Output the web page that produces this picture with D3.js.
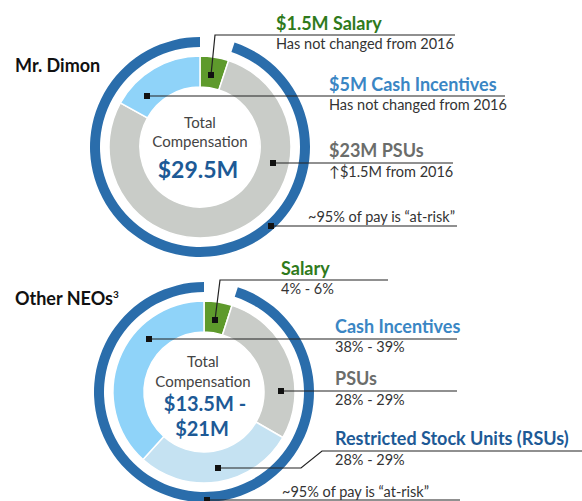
<!DOCTYPE html>
<html><head><meta charset="utf-8">
<script src="https://cdn.jsdelivr.net/npm/d3@7"></script>
<style>
html,body{margin:0;padding:0;background:#fff;}
svg{display:block;font-family:Lato,"Open Sans",sans-serif;}
</style></head>
<body>
<svg id="chart" width="582" height="501"></svg>
<script>
// ---- data ----
const dimonCategories = ["Salary", "PSUs", "Cash Incentives"];
const dimonValues = [1.5, 23, 5];           // $M
const dimonTotal = "$29.5M";
const dimonLabels = ["$1.5M Salary", "$23M PSUs", "$5M Cash Incentives"];
const dimonNotes = ["Has not changed from 2016", "\u2191$1.5M from 2016", "Has not changed from 2016"];

const neoCategories = ["Salary", "PSUs", "RSUs", "Cash Incentives"];
const neoValues = [5, 28.5, 28.5, 38.5];    // % (midpoint of ranges)
const neoTotal = ["$13.5M -", "$21M"];
const neoLabels = ["Salary", "PSUs", "Restricted Stock Units (RSUs)", "Cash Incentives"];
const neoNotes = ["4% - 6%", "28% - 29%", "28% - 29%", "38% - 39%"];

const atRiskText = "~95% of pay is \u201cat-risk\u201d";

const colors = {
  "Salary": "#5e9a2c",
  "PSUs": "#c9ccc8",
  "Cash Incentives": "#8fd3f9",
  "RSUs": "#c5e2f2"
};
const labelColors = {
  "Salary": "#2f7a1c",
  "PSUs": "#6b6d6b",
  "Cash Incentives": "#3a86c4",
  "RSUs": "#1d5a96"
};
const ringColor = "#2a6dab";

const svg = d3.select("#chart");

function donut(cx, cy, cats, vals) {
  const g = svg.append("g").attr("transform", `translate(${cx},${cy})`);
  const pie = d3.pie().sort(null).value(d => d)(vals);
  const arc = d3.arc().innerRadius(60).outerRadius(91);
  g.selectAll("path.seg").data(pie).join("path")
    .attr("class", "seg")
    .attr("d", arc)
    .attr("fill", (d, i) => colors[cats[i]])
    .attr("stroke", "#fff").attr("stroke-width", 1.5);
  // outer at-risk ring: everything except salary
  const total = d3.sum(vals);
  const start = vals[0] / total * 2 * Math.PI;
  g.append("path")
    .attr("d", d3.arc().innerRadius(100).outerRadius(110).startAngle(start).endAngle(2 * Math.PI)())
    .attr("fill", ringColor);
  return { g, pie, arc };
}

function marker(x, y) {
  svg.append("rect").attr("x", x - 3).attr("y", y - 3).attr("width", 6).attr("height", 6).attr("fill", "#111");
}
function leader(points) {
  svg.append("path").attr("d", d3.line()(points)).attr("fill", "none").attr("stroke", "#222").attr("stroke-width", 1.2);
}
function label(x, y, text, color, size, weight) {
  svg.append("text").attr("x", x).attr("y", y).text(text)
    .attr("fill", color).attr("font-size", size).attr("font-weight", weight || 400);
}

// ---- Mr. Dimon ----
label(15, 72, "Mr. Dimon", "#111", 18, 700);
donut(200, 147, dimonCategories, dimonValues);

// center text
svg.append("text").attr("x", 200).attr("y", 128).attr("text-anchor", "middle").attr("font-size", 15).attr("fill", "#444").text("Total");
svg.append("text").attr("x", 200).attr("y", 147).attr("text-anchor", "middle").attr("font-size", 15).attr("fill", "#444").text("Compensation");
svg.append("text").attr("x", 198).attr("y", 178).attr("text-anchor", "middle").attr("font-size", 23).attr("font-weight", 700).attr("fill", "#1d5a96").text(dimonTotal);

// salary
leader([[211, 75], [215, 35], [455, 35]]); marker(211, 75);
label(276, 30, dimonLabels[0], labelColors["Salary"], 18, 700);
label(276, 49, dimonNotes[0], "#333", 14.5);
// cash
leader([[147, 96], [505, 96]]); marker(147, 96);
label(329, 91, dimonLabels[2], labelColors["Cash Incentives"], 18, 700);
label(329, 110, dimonNotes[2], "#333", 14.5);
// psus
leader([[273, 163], [453, 163]]); marker(273, 163);
label(329, 157, dimonLabels[1], labelColors["PSUs"], 18, 700);
label(329, 177, dimonNotes[1], "#333", 14.5);
// at-risk
leader([[271, 226], [457, 226]]); marker(271, 226);
label(308, 222, atRiskText, "#333", 14.5);

// ---- Other NEOs ----
const t = svg.append("text").attr("x", 15).attr("y", 305).attr("font-size", 18).attr("font-weight", 700).attr("fill", "#111");
t.append("tspan").text("Other NEOs");
t.append("tspan").text("3").attr("font-size", 10).attr("dy", -7);
donut(204, 392, neoCategories, neoValues);

svg.append("text").attr("x", 203).attr("y", 367).attr("text-anchor", "middle").attr("font-size", 15).attr("fill", "#444").text("Total");
svg.append("text").attr("x", 203).attr("y", 387).attr("text-anchor", "middle").attr("font-size", 15).attr("fill", "#444").text("Compensation");
svg.append("text").attr("x", 205).attr("y", 411).attr("text-anchor", "middle").attr("font-size", 20).attr("font-weight", 700).attr("fill", "#1d5a96").text(neoTotal[0]);
svg.append("text").attr("x", 202).attr("y", 436).attr("text-anchor", "middle").attr("font-size", 20).attr("font-weight", 700).attr("fill", "#1d5a96").text(neoTotal[1]);

// salary
leader([[215, 320], [220, 280], [388, 280]]); marker(215, 320);
label(281, 275, neoLabels[0], labelColors["Salary"], 18, 700);
label(281, 294, neoNotes[0], "#333", 14.5);
// cash
leader([[149, 339], [457, 339]]); marker(149, 339);
label(335, 333, neoLabels[3], labelColors["Cash Incentives"], 18, 700);
label(335, 352, neoNotes[3], "#333", 14.5);
// psus
leader([[281, 391], [457, 391]]); marker(281, 391);
label(335, 385, neoLabels[1], labelColors["PSUs"], 18, 700);
label(335, 405, neoNotes[1], "#333", 14.5);
// rsus
leader([[218, 468], [301, 468], [322, 451], [582, 451]]); marker(218, 468);
label(335, 445, neoLabels[2], labelColors["RSUs"], 18, 700);
label(335, 465, neoNotes[2], "#333", 14.5);
// at-risk
leader([[207, 500], [460, 500]]); marker(207, 500);
label(282, 497, atRiskText, "#333", 14.5);
</script>
</body></html>
